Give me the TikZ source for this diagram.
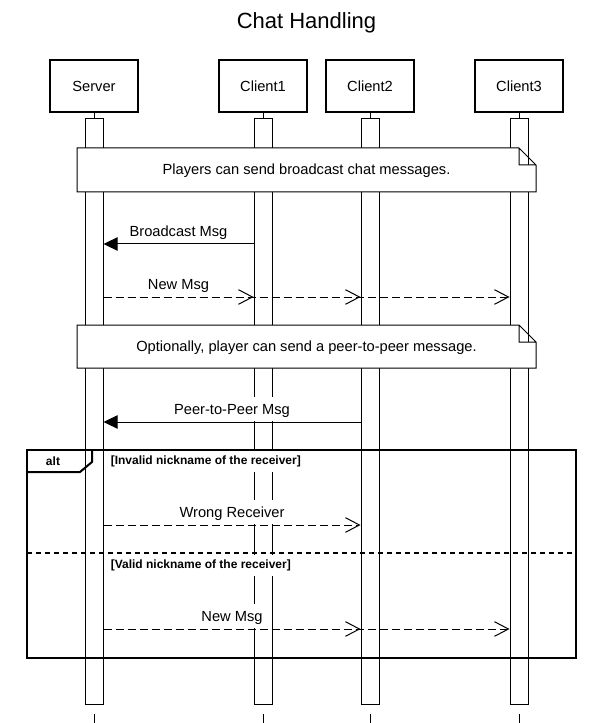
\documentclass[tikz,border=0pt]{standalone}
\usepackage{fontspec}
\setmainfont{Liberation Sans}
\usetikzlibrary{arrows.meta}

\begin{document}
\begin{tikzpicture}[
    x=0.75pt, y=-0.75pt,
    actor/.style={rectangle, draw, line width=1.5pt, minimum width=66pt, minimum height=39pt, font=\fontsize{11}{13}\selectfont},
    bar/.style={rectangle, draw, fill=white, line width=0.75pt, minimum width=13.5pt, minimum height=438.75pt, inner sep=0pt},
    notebox/.style={draw, fill=white, line width=0.75pt},
    notetext/.style={font=\fontsize{11}{13}\selectfont},
    call/.style={-{Triangle[length=10.5pt, width=10pt]}, line width=0.75pt},
    reply/.style={dash pattern=on 6pt off 3pt, -{Straight Barb[length=10.5pt, width=11pt, line width=0.75pt]}, line width=0.75pt},
    msglabel/.style={midway, above=0.4pt, fill=white, inner xsep=1pt, inner ysep=2.5pt, text height=10.5pt, text depth=2.3pt, font=\fontsize{11}{13}\selectfont},
    guard/.style={anchor=west, fill=white, inner xsep=1.5pt, inner ysep=0pt, minimum height=16pt, font=\fontsize{9}{11}\selectfont\bfseries},
    frame/.style={draw, line width=1.5pt}
]
\useasboundingbox (0,0) rectangle (613,723);

% Title
\node[font=\fontsize{16.5}{20}\selectfont, anchor=base] (title) at (306.5,28.3) {Chat Handling};

% Participants and lifelines
\foreach \name/\lbl/\x in {srv/Server/94, c1/Client1/263, c2/Client2/370, c3/Client3/519} {
    \node[actor] (\name) at (\x,86) {\lbl};
    \node[bar] (\name bar) at (\x,411.5) {};
    \coordinate (\name end) at (\x,723);
    \draw[line width=0.75pt] (\name) -- (\name bar);
    \draw[line width=0.75pt, dash pattern=on 0pt off 6.75pt on 12pt] (\name bar.south) -- (\name end);
}

% Notes
\foreach \top/\bot in {148/192, 325/368}
    \draw[notebox] (77,\bot) -- (77,\top) -- (519,\top) -- (536,\top+17) -- (536,\bot) -- cycle
        (519,\top) -- (519,\top+17) -- (536,\top+17);
\node[notetext] (n1) at (306.5,171) {Players can send broadcast chat messages.};
\node[notetext] (n2) at (306.5,347.5) {Optionally, player can send a peer-to-peer message.};

% Broadcast
\draw[call] (c1bar.west |- 0,244) -- (srvbar.east |- 0,244) node[msglabel] {Broadcast Msg};
\draw[reply] (srvbar.east |- 0,297) -- (c1bar.west |- 0,297) node[msglabel] {New Msg};
\draw[reply] (srvbar.east |- 0,297) -- (c2bar.west |- 0,297);
\draw[reply] (srvbar.east |- 0,297) -- (c3bar.west |- 0,297);

% Peer to peer
\draw[call] (c2bar.west |- 0,422) -- (srvbar.east |- 0,422) node[msglabel] {Peer-to-Peer Msg};

% Alt fragment
\node[guard] (g1) at (108.5,461.5) {[Invalid nickname of the receiver]};
\draw[reply] (srvbar.east |- 0,525) -- (c2bar.west |- 0,525) node[msglabel] {Wrong Receiver};
\draw[line width=1.5pt, dash pattern=on 3.75pt off 3pt] (27,553) -- (576,553);
\node[guard] (g2) at (108.5,565.5) {[Valid nickname of the receiver]};
\draw[reply] (srvbar.east |- 0,629) -- (c2bar.west |- 0,629) node[msglabel] {New Msg};
\draw[reply] (srvbar.east |- 0,629) -- (c3bar.west |- 0,629);

\draw[frame] (27,450) rectangle (576,657.5);
\draw[frame] (27,472) -- (80,472) -- (92,462) -- (92,450);
\node[font=\fontsize{9}{11}\selectfont\bfseries] (alt) at (53,461.5) {alt};

\end{tikzpicture}
\end{document}
